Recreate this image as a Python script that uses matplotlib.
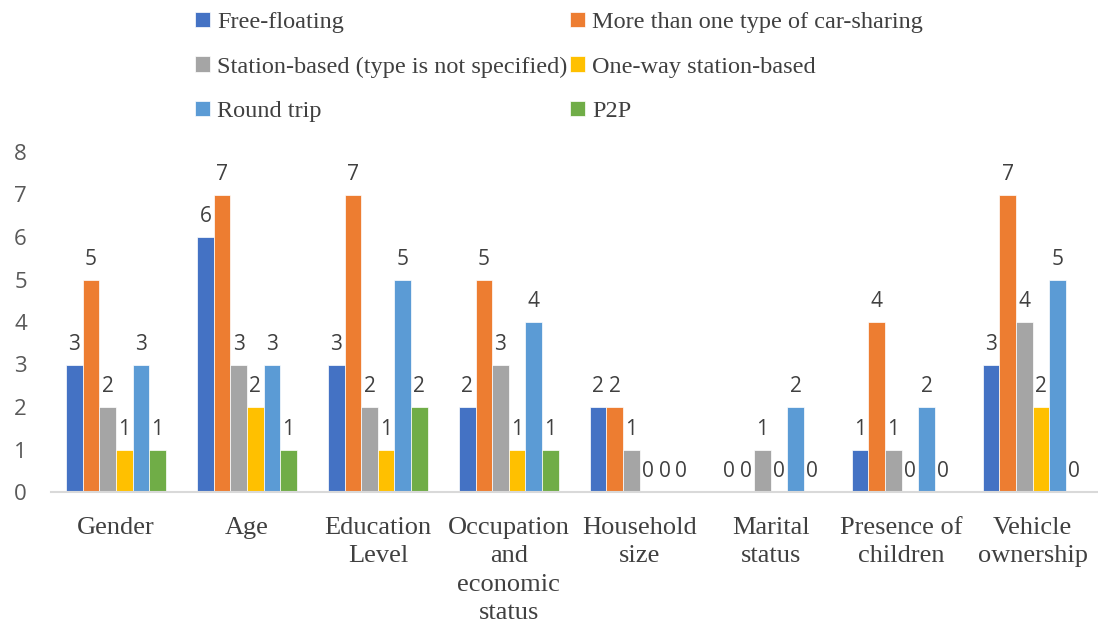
import matplotlib.pyplot as plt
import numpy as np

categories = ['Gender', 'Age', 'Education\nLevel', 'Occupation\nand\neconomic\nstatus',
              'Household\nsize', 'Marital\nstatus', 'Presence of\nchildren', 'Vehicle\nownership']
series_names = ['Free-floating', 'More than one type of car-sharing',
                'Station-based (type is not specified)', 'One-way station-based',
                'Round trip', 'P2P']
free_floating = [3, 6, 3, 2, 2, 0, 1, 3]
more_than_one = [5, 7, 7, 5, 2, 0, 4, 7]
station_based = [2, 3, 2, 3, 1, 1, 1, 4]
one_way = [1, 2, 1, 1, 0, 0, 0, 2]
round_trip = [3, 3, 5, 4, 0, 2, 2, 5]
p2p = [1, 1, 2, 1, 0, 0, 0, 0]
colors = ['#4472C4', '#ED7D31', '#A5A5A5', '#FFC000', '#5B9BD5', '#70AD47']


def main():
    fig = plt.figure(figsize=(10.98, 6.25), dpi=100)
    ax = fig.add_axes([0.046, 0.2128, 0.954, 0.544])
    data = [free_floating, more_than_one, station_based, one_way, round_trip, p2p]
    x = np.arange(len(categories))
    w = 0.127
    handles = []
    for i, (vals, name, c) in enumerate(zip(data, series_names, colors)):
        pos = x + (i - 2.5) * w
        b = ax.bar(pos, vals, w, color=c, edgecolor='white', linewidth=0.5, label=name)
        handles.append(b)
        for p, v in zip(pos, vals):
            ax.annotate(str(v), (p, v), xytext=(0, 7), textcoords='offset points',
                        ha='center', va='bottom', fontsize=15, color='#404040',
                        family='Open Sans')

    ax.set_xlim(-0.5, len(categories) - 0.5)
    ax.set_ylim(0, 8)
    ax.set_yticks(range(0, 9))
    ax.set_xticks(x)
    ax.set_xticklabels(categories, family='Liberation Serif', fontsize=19, color='#404040',
                       linespacing=1.37)
    for lab in ax.get_yticklabels():
        lab.set_family('Open Sans')
        lab.set_fontsize(16)
        lab.set_color('#595959')
    ax.tick_params(axis='both', length=0)
    ax.tick_params(axis='y', pad=17)
    ax.tick_params(axis='x', pad=18)
    for s in ['top', 'right', 'left']:
        ax.spines[s].set_visible(False)
    ax.spines['bottom'].set_color('#D9D9D9')
    ax.spines['bottom'].set_linewidth(1.5)

    order = [0, 2, 4, 1, 3, 5]
    fig.legend([handles[i] for i in order], [series_names[i] for i in order],
               loc='upper left', bbox_to_anchor=(0.158, 1.016), ncol=2, frameon=False,
               prop={'family': 'Liberation Serif', 'size': 17.5}, labelcolor='#404040',
               handlelength=0.6, handleheight=0.6, handletextpad=0.3,
               columnspacing=0.1, labelspacing=0.95)

    fig.savefig('out.png', dpi=100)


if __name__ == '__main__':
    main()
